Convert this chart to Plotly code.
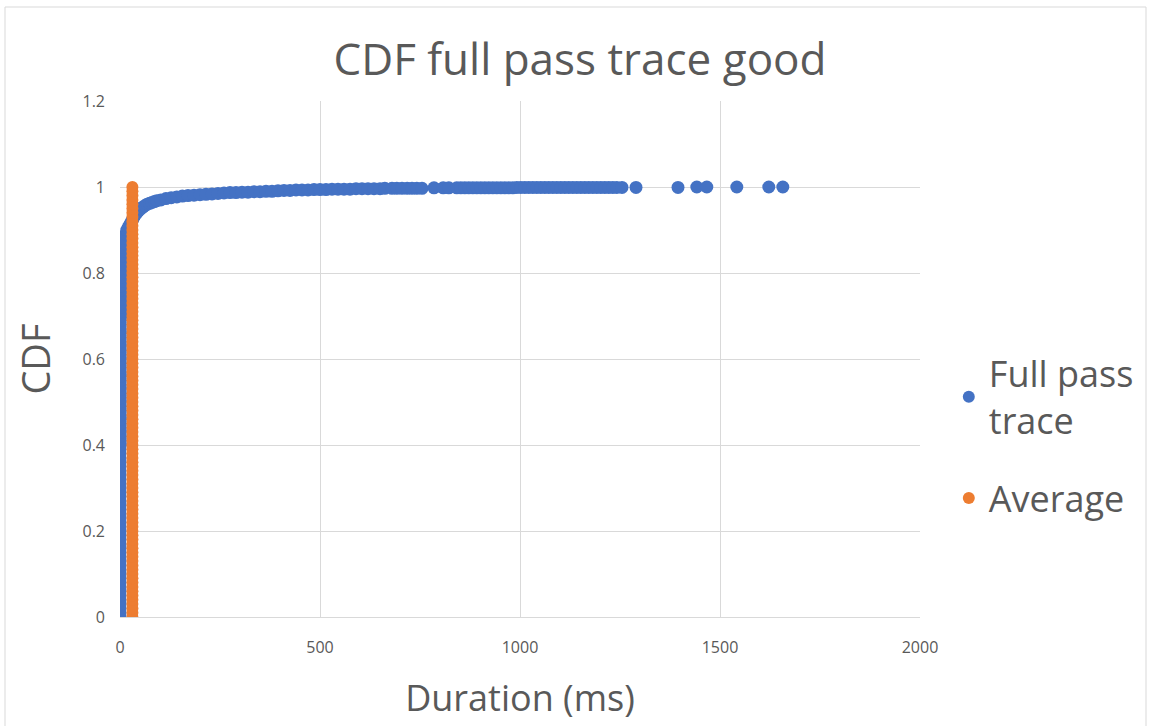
import plotly.graph_objects as go

# Full pass trace: durations (ms) and their cumulative fraction
trace_duration_ms = [
    0, 0, 0, 0, 0, 0, 0, 0, 0, 0, 0, 0, 0, 0, 0, 0, 0, 0, 0, 0,
    0, 0, 0, 0, 0, 0, 0, 0, 0, 0, 0, 0, 0, 0, 0, 0, 0, 0, 0, 0,
    1, 1, 1, 1, 1, 1, 1, 1, 1, 1, 1, 1, 1, 1, 1, 1, 1, 1, 1, 1,
    1, 1, 1, 1, 1, 1, 1, 1, 1, 1, 2, 2, 2, 2, 2, 2, 2, 2, 2, 2,
    3, 3, 4, 5, 6, 7, 8, 10, 12, 14, 17, 20, 23, 26, 29, 32, 35, 38, 42, 46,
    50, 54, 58, 63, 68, 74, 80, 86, 92, 102,
    115, 128, 142, 156, 170, 185, 200, 215, 230, 245, 260, 275, 290, 305,
    320, 335, 350, 365, 380, 395, 410, 425, 440, 455, 470, 485, 500, 515,
    530, 545, 560, 575, 590, 605, 620, 635, 650, 662,
    680, 692, 705, 718, 730, 742, 755, 785, 808, 822,
    842, 852, 862, 872, 882, 892, 902, 912, 922, 932, 942, 952, 962, 972,
    982, 992, 1002, 1012, 1022, 1032, 1042, 1052, 1062, 1072, 1082, 1092,
    1102, 1112, 1122, 1132, 1142, 1152, 1162, 1172, 1182, 1192, 1202, 1212,
    1222, 1232, 1242, 1255, 1290, 1395, 1442, 1467, 1542, 1622, 1657,
]
trace_cdf = [
    0.00, 0.01, 0.02, 0.03, 0.04, 0.05, 0.06, 0.07, 0.08, 0.09,
    0.10, 0.11, 0.12, 0.13, 0.14, 0.15, 0.16, 0.17, 0.18, 0.19,
    0.20, 0.21, 0.22, 0.23, 0.24, 0.25, 0.26, 0.27, 0.28, 0.29,
    0.30, 0.31, 0.32, 0.33, 0.34, 0.35, 0.36, 0.37, 0.38, 0.39,
    0.40, 0.41, 0.42, 0.43, 0.44, 0.45, 0.46, 0.47, 0.48, 0.49,
    0.50, 0.51, 0.52, 0.53, 0.54, 0.55, 0.56, 0.57, 0.58, 0.59,
    0.60, 0.61, 0.62, 0.63, 0.64, 0.65, 0.66, 0.67, 0.68, 0.69,
    0.70, 0.71, 0.72, 0.73, 0.74, 0.75, 0.76, 0.77, 0.78, 0.79,
    0.80, 0.81, 0.82, 0.83, 0.84, 0.85, 0.86, 0.87, 0.88, 0.89,
    0.90, 0.905, 0.91, 0.915, 0.92, 0.925, 0.93, 0.935, 0.94, 0.944,
    0.948, 0.951, 0.954, 0.957, 0.960, 0.962, 0.964, 0.966, 0.968, 0.970,
    0.973, 0.975, 0.977, 0.979, 0.980, 0.981, 0.982, 0.983, 0.984, 0.985,
    0.986, 0.987, 0.987, 0.988, 0.988, 0.989, 0.989, 0.990, 0.990, 0.991,
    0.992, 0.992, 0.993, 0.993, 0.993, 0.994, 0.994, 0.994, 0.995, 0.995,
    0.995, 0.995, 0.996, 0.996, 0.996, 0.996, 0.996,
    0.997, 0.997, 0.997, 0.997, 0.997, 0.997, 0.997, 0.997, 0.998, 0.998,
    0.998, 0.998, 0.998, 0.998, 0.998, 0.998, 0.998, 0.998, 0.998, 0.998,
    0.998, 0.998, 0.998, 0.998, 0.998, 0.998, 0.999, 0.999, 0.999, 0.999,
    0.999, 0.999, 0.999, 0.999, 0.999, 0.999, 0.999, 0.999, 0.999, 0.999,
    0.999, 0.999, 0.999, 0.999, 0.999, 0.999, 0.999, 0.999, 0.999, 0.999,
    0.999, 0.999, 0.999, 0.999, 0.999, 1.000, 1.000, 1.000, 1.000, 1.000,
    1.000, 1.000,
]

# Average duration drawn as a vertical column of points
average_duration_ms = [31] * 101
average_cdf = [
    0.00, 0.01, 0.02, 0.03, 0.04, 0.05, 0.06, 0.07, 0.08, 0.09,
    0.10, 0.11, 0.12, 0.13, 0.14, 0.15, 0.16, 0.17, 0.18, 0.19,
    0.20, 0.21, 0.22, 0.23, 0.24, 0.25, 0.26, 0.27, 0.28, 0.29,
    0.30, 0.31, 0.32, 0.33, 0.34, 0.35, 0.36, 0.37, 0.38, 0.39,
    0.40, 0.41, 0.42, 0.43, 0.44, 0.45, 0.46, 0.47, 0.48, 0.49,
    0.50, 0.51, 0.52, 0.53, 0.54, 0.55, 0.56, 0.57, 0.58, 0.59,
    0.60, 0.61, 0.62, 0.63, 0.64, 0.65, 0.66, 0.67, 0.68, 0.69,
    0.70, 0.71, 0.72, 0.73, 0.74, 0.75, 0.76, 0.77, 0.78, 0.79,
    0.80, 0.81, 0.82, 0.83, 0.84, 0.85, 0.86, 0.87, 0.88, 0.89,
    0.90, 0.91, 0.92, 0.93, 0.94, 0.95, 0.96, 0.97, 0.98, 0.99,
    1.00,
]

x_ticks = [0, 500, 1000, 1500, 2000]
y_ticks = [0, 0.2, 0.4, 0.6, 0.8, 1, 1.2]

BLUE = "#4472C4"
ORANGE = "#ED7D31"
TEXT = "#595959"
GRID = "#D9D9D9"
FONT = "Open Sans"

fig = go.Figure()
fig.add_trace(go.Scatter(
    x=trace_duration_ms, y=trace_cdf, mode="markers",
    name="Full pass<br>trace", legendgroup="trace",
    marker=dict(color=BLUE, size=13, line=dict(width=0)),
))
fig.add_trace(go.Scatter(
    x=average_duration_ms, y=average_cdf, mode="markers",
    name="Average", legendgroup="avg",
    marker=dict(color=ORANGE, size=12, line=dict(width=0)),
))

fig.update_layout(
    width=1151, height=726,
    margin=dict(l=120, r=231, t=101, b=109),
    paper_bgcolor="white", plot_bgcolor="white",
    font=dict(family=FONT, color=TEXT),
    title=dict(
        text="CDF full pass trace good",
        x=580 / 1151, xanchor="center",
        y=1 - 60 / 726, yanchor="middle",
        font=dict(size=44, color=TEXT, family=FONT),
    ),
    showlegend=True,
    legend=dict(
        x=1.036, xanchor="left", y=0.53, yanchor="top",
        font=dict(size=36, color=TEXT, family=FONT),
        itemsizing="constant", traceorder="grouped", tracegroupgap=28,
        bgcolor="rgba(0,0,0,0)",
    ),
    xaxis=dict(
        range=[0, 2000], tickvals=x_ticks, showgrid=True, gridcolor=GRID,
        gridwidth=1, zeroline=False, showline=True, linecolor=GRID,
        ticks="", tickfont=dict(size=16, color=TEXT, family=FONT),
        ticklabelstandoff=16,
        title=dict(text="Duration (ms)", font=dict(size=36, color=TEXT, family=FONT), standoff=28),
    ),
    yaxis=dict(
        range=[0, 1.2], tickvals=y_ticks, showgrid=True, gridcolor=GRID,
        gridwidth=1, zeroline=False, showline=False,
        ticks="", tickfont=dict(size=16, color=TEXT, family=FONT),
        ticklabelstandoff=14,
        title=dict(text="CDF", font=dict(size=38, color=TEXT, family=FONT), standoff=20),
    ),
    shapes=[dict(
        type="rect", xref="paper", yref="paper",
        x0=(5 - 120) / 800, x1=(1146 - 120) / 800,
        y0=-0.3, y1=(617 - 7) / 516,
        line=dict(color=GRID, width=1), fillcolor="rgba(0,0,0,0)", layer="below",
    )],
)

fig.write_html("out.html")
